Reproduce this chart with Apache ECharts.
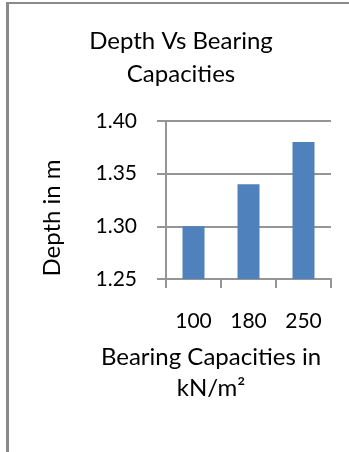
<!DOCTYPE html>
<html>
<head>
<meta charset="utf-8">
<script src="https://cdn.jsdelivr.net/npm/echarts@6/dist/echarts.min.js"></script>
<style>
  html, body { margin: 0; padding: 0; background: #ffffff; }
  #chart { width: 349px; height: 452px; }
</style>
</head>
<body>
<div id="chart"></div>
<script>
// Bearing capacity categories (kN/m²) and the footing depth for each
const categories = ['100', '180', '250'];
const depths = [1.30, 1.34, 1.38];
const yTicks = { min: 1.25, max: 1.40, step: 0.05 };

const FONT = 'Lato, "Noto Sans", sans-serif';
const AXIS_GREY = '#959595';
const chart = echarts.init(document.getElementById('chart'), null, { renderer: 'canvas' });

chart.setOption({
  animation: false,
  backgroundColor: '#ffffff',
  grid: { left: 166, right: 18, top: 121, bottom: 173 },
  xAxis: {
    type: 'category',
    data: categories,
    axisLine: { show: true, lineStyle: { color: AXIS_GREY, width: 2 } },
    axisTick: { show: true, length: 9, lineStyle: { color: AXIS_GREY, width: 2 } },
    axisLabel: { color: '#000', fontFamily: FONT, fontSize: 21, margin: 32 },
    splitLine: { show: false }
  },
  yAxis: {
    type: 'value',
    min: yTicks.min,
    max: yTicks.max,
    interval: yTicks.step,
    axisLine: { show: true, lineStyle: { color: AXIS_GREY, width: 2 } },
    axisTick: { show: true, inside: false, length: 9, lineStyle: { color: AXIS_GREY, width: 2 } },
    axisLabel: {
      color: '#000', fontFamily: FONT, fontSize: 21, margin: 29,
      formatter: v => v.toFixed(2)
    },
    splitLine: { show: true, lineStyle: { color: AXIS_GREY, width: 2 } }
  },
  series: [{
    type: 'bar',
    data: depths,
    barWidth: '40%',
    itemStyle: { color: '#4F81BD' }
  }],
  graphic: [
    // frame edges
    { type: 'line', shape: { x1: 7.5, y1: 2, x2: 7.5, y2: 452 }, style: { stroke: '#8a8a8a', lineWidth: 3 } },
    { type: 'line', shape: { x1: 6, y1: 3, x2: 349, y2: 3 }, style: { stroke: '#8a8a8a', lineWidth: 2 } },
    // chart title
    { type: 'text', x: 181, y: 58, style: {
        text: 'Depth Vs Bearing\nCapacities', fill: '#000', font: '24px ' + FONT,
        align: 'center', verticalAlign: 'middle', lineHeight: 33 } },
    // value axis title
    { type: 'text', x: 52, y: 218, rotation: Math.PI / 2, style: {
        text: 'Depth in m', fill: '#000', font: '24px ' + FONT,
        align: 'center', verticalAlign: 'middle' } },
    // category axis title
    { type: 'text', x: 211, y: 373, style: {
        text: 'Bearing Capacities in\nkN/m²', fill: '#000', font: '24px ' + FONT,
        align: 'center', verticalAlign: 'middle', lineHeight: 31 } }
  ]
});
</script>
</body>
</html>
